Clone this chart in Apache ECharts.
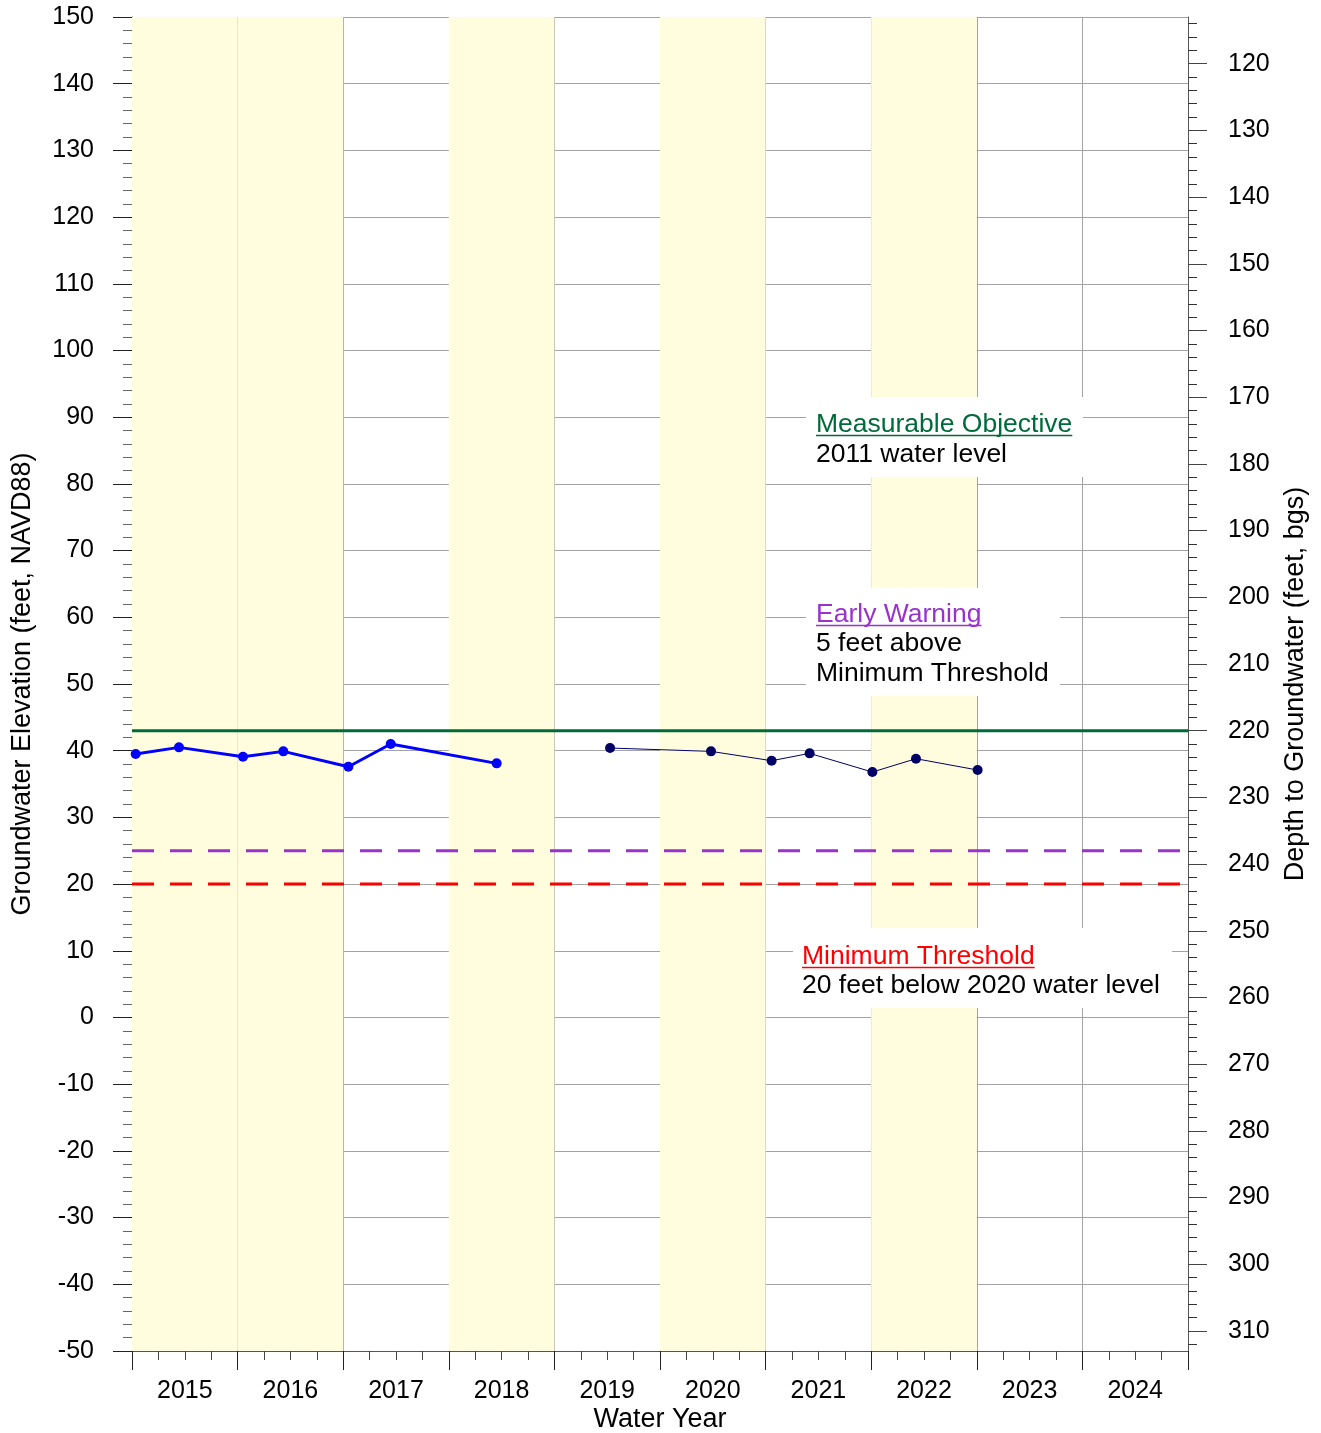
<!DOCTYPE html>
<html><head><meta charset="utf-8">
<script src="https://cdn.jsdelivr.net/npm/echarts@6/dist/echarts.min.js"></script>
<style>html,body{margin:0;padding:0;background:#fff}#c{width:1321px;height:1433px}</style>
</head><body><div id="c"></div>
<script>
// ---- data ----
const waterYears = ['2015','2016','2017','2018','2019','2020','2021','2022','2023','2024'];
const shadedWaterYears = [2015, 2016, 2018, 2020, 2022];
// decimal calendar dates of measurements and groundwater elevations (feet, NAVD88)
const series1Dates = [2014.785, 2015.195, 2015.801, 2016.183, 2016.799, 2017.200, 2018.203];
const series1Elev  = [39.5, 40.5, 39.1, 39.9, 37.6, 41.0, 38.1];
const series2Dates = [2019.277, 2020.233, 2020.807, 2021.167, 2021.761, 2022.174, 2022.758];
const series2Elev  = [40.4, 39.9, 38.5, 39.6, 36.8, 38.8, 37.1];
const measurableObjective = 43;
const earlyWarning = 25;
const minimumThreshold = 20;
const groundSurfaceElev = 263;
const elevMin = -50, elevMax = 150, elevStep = 10;
const depthTickLabels = [120,130,140,150,160,170,180,190,200,210,220,230,240,250,260,270,280,290,300,310];
const xStart = 2014.75, xEnd = 2024.75;

const FONT = 'Liberation Sans, Arial, sans-serif';
const zip = (a, b) => a.map((v, i) => [v, b[i]]);
const hline = v => [[xStart, v], [xEnd, v]];

const chart = echarts.init(document.getElementById('c'), null, {renderer: 'canvas'});

const ANN = 26.5;
const measure = (() => {
  const cv = document.createElement('canvas').getContext('2d');
  cv.font = ANN + 'px ' + FONT;
  return t => cv.measureText(t).width;
})();

function box(x, y, w, h, lines) {
  const els = [{type: 'rect', shape: {x, y, width: w, height: h}, style: {fill: '#fff'}, z: 100}];
  lines.forEach(l => {
    els.push({type: 'text', x: l.x, y: l.y + 2, z: 101,
      style: {text: l.t, fill: l.c || '#000', font: ANN + 'px ' + FONT, verticalAlign: 'middle', align: 'left'}});
    if (l.u) {
      const wdt = measure(l.t);
      els.push({type: 'line', z: 101, shape: {x1: l.x, y1: l.y + 12.5, x2: l.x + wdt, y2: l.y + 12.5},
        style: {stroke: l.c, lineWidth: 1.5}});
    }
  });
  return els;
}

const graphics = [].concat(
  box(806, 397, 277, 80, [
    {t: 'Measurable Objective', x: 816, y: 423, c: '#006B3A', u: true},
    {t: '2011 water level', x: 816, y: 453}
  ]),
  box(806, 588, 254, 108, [
    {t: 'Early Warning', x: 816, y: 613, c: '#9933CC', u: true},
    {t: '5 feet above', x: 816, y: 642},
    {t: 'Minimum Threshold', x: 816, y: 672}
  ]),
  box(793, 928, 379, 80, [
    {t: 'Minimum Threshold', x: 802, y: 955, c: '#FF0000', u: true},
    {t: '20 feet below 2020 water level', x: 802, y: 984}
  ])
);

const option = {
  animation: false,
  backgroundColor: '#fff',
  textStyle: {fontFamily: FONT},
  grid: {left: 132, top: 17, width: 1056, height: 1334, containLabel: false, outerBoundsMode: 'none'},
  xAxis: [{
    type: 'value', min: xStart, max: xEnd, interval: 1,
    axisLine: {show: true, onZero: false, lineStyle: {color: '#555', width: 1}},
    axisTick: {show: true, inside: false, length: 19, lineStyle: {color: '#222'}},
    minorTick: {show: true, splitNumber: 4, length: 9, lineStyle: {color: '#444'}},
    axisLabel: {show: false},
    splitLine: {show: true, lineStyle: {color: '#a3a3a3', width: 1}},
    name: 'Water Year', nameLocation: 'middle', nameGap: 55,
    nameTextStyle: {fontSize: 27, color: '#000', fontFamily: FONT}
  }, {
    type: 'category', data: waterYears, position: 'bottom', boundaryGap: true,
    axisLine: {show: false}, axisTick: {show: false}, splitLine: {show: false},
    axisLabel: {margin: 28, fontSize: 25, color: '#000', fontFamily: FONT}
  }],
  yAxis: [{
    type: 'value', min: elevMin, max: elevMax, interval: elevStep, position: 'left',
    axisLine: {show: true, onZero: false, lineStyle: {color: '#555'}},
    axisTick: {show: true, length: 19, lineStyle: {color: '#222'}},
    minorTick: {show: true, splitNumber: 5, length: 9, lineStyle: {color: '#666'}},
    axisLabel: {margin: 38, fontSize: 25, color: '#000', fontFamily: FONT, padding: [4, 0, 0, 0]},
    splitLine: {show: true, lineStyle: {color: '#a3a3a3', width: 1}},
    name: 'Groundwater Elevation (feet, NAVD88)', nameLocation: 'middle', nameGap: 96,
    nameTextStyle: {fontSize: 27, color: '#000', fontFamily: FONT}
  }, {
    type: 'value', min: groundSurfaceElev - elevMax, max: groundSurfaceElev - elevMin,
    inverse: true, splitNumber: 20, position: 'right',
    axisLine: {show: true, onZero: false, lineStyle: {color: '#555'}},
    axisTick: {show: true, length: 19, customValues: depthTickLabels, lineStyle: {color: '#444'}},
    minorTick: {show: true, splitNumber: 5, length: 9, lineStyle: {color: '#333'}},
    axisLabel: {margin: 40, fontSize: 25, color: '#000', fontFamily: FONT, customValues: depthTickLabels,
      padding: [4, 0, 0, 0],
      formatter: v => (Math.abs(v % 10) < 1e-6 ? String(v) : '')},
    splitLine: {show: false},
    name: 'Depth to Groundwater (feet, bgs)', nameLocation: 'middle', nameGap: 94, nameRotate: 90,
    nameTextStyle: {fontSize: 27, color: '#000', fontFamily: FONT}
  }],
  graphic: graphics,
  series: [
    {
      type: 'line', data: [], z: -1, silent: true,
      markArea: {silent: true, itemStyle: {color: '#FFFDDD'},
        data: shadedWaterYears.map(y => [{xAxis: y - 0.25}, {xAxis: y + 0.75}])}
    },
    {type: 'line', data: hline(measurableObjective), symbol: 'none', z: 3,
      lineStyle: {color: '#006B3A', width: 3}},
    {type: 'line', data: hline(earlyWarning), symbol: 'none', z: 3,
      lineStyle: {color: '#9933CC', width: 3, type: [22, 16]}},
    {type: 'line', data: hline(minimumThreshold), symbol: 'none', z: 3,
      lineStyle: {color: '#FF0000', width: 3, type: [22, 16]}},
    {type: 'line', data: zip(series1Dates, series1Elev), symbol: 'circle', symbolSize: 10, z: 4,
      itemStyle: {color: '#0000FF'}, lineStyle: {color: '#0000FF', width: 3}},
    {type: 'line', data: zip(series2Dates, series2Elev), symbol: 'circle', symbolSize: 10, z: 4,
      itemStyle: {color: '#000066'}, lineStyle: {color: '#000066', width: 1}}
  ]
};
chart.setOption(option);
</script>
</body></html>
